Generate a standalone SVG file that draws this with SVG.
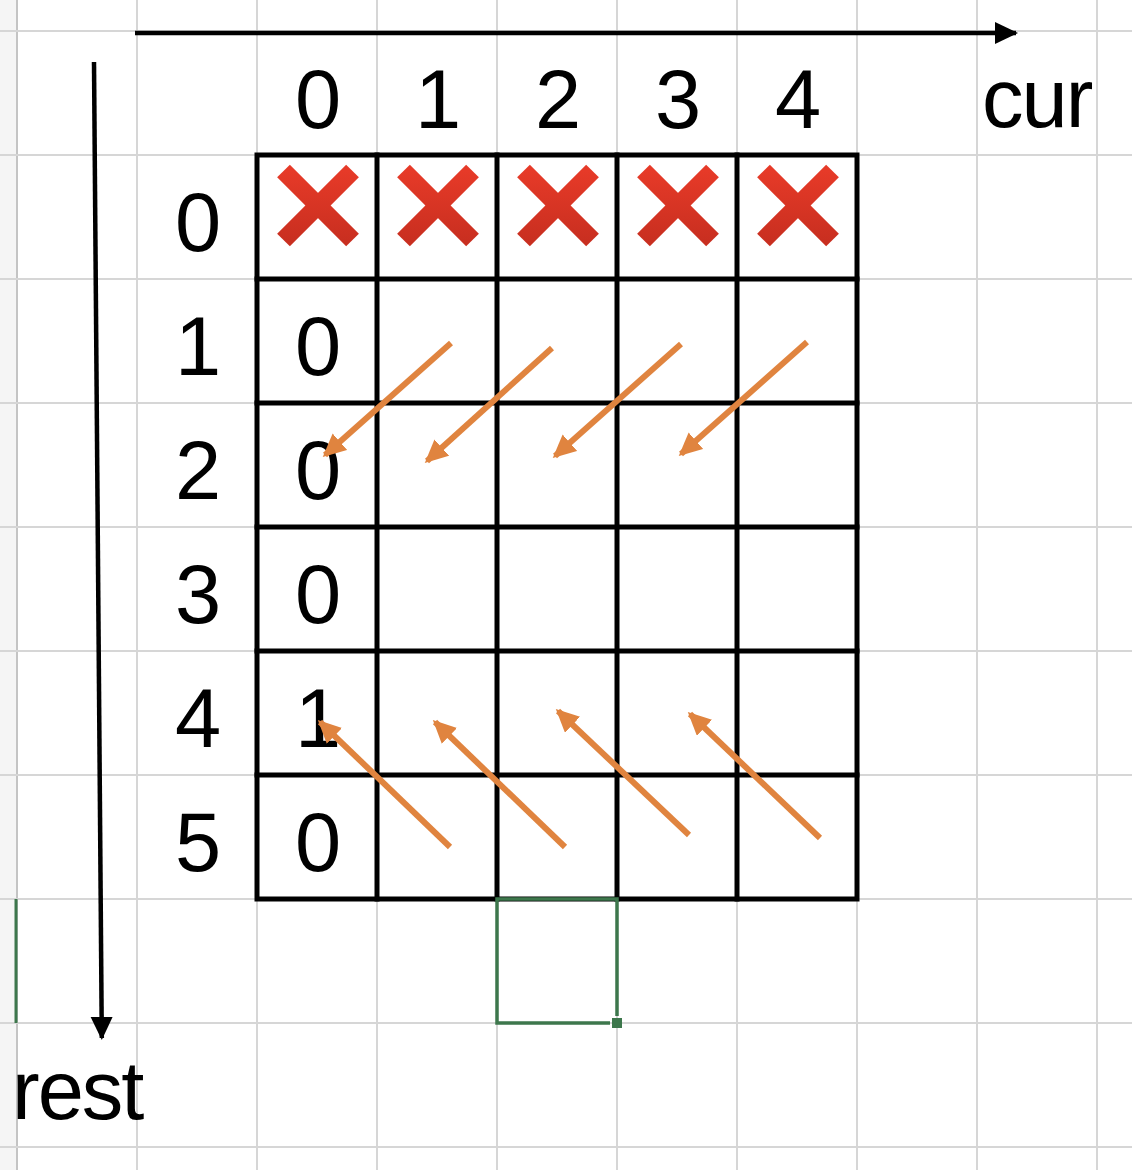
<svg xmlns="http://www.w3.org/2000/svg" width="1132" height="1170" viewBox="0 0 1132 1170">
  <style>
    .grid { stroke: #d6d6d6; stroke-width: 2; fill: none; }
    .tbl { stroke: #000; stroke-width: 5; fill: none; stroke-linecap: square; }
    .t { font-family: "Liberation Sans", Arial, sans-serif; font-size: 83px; fill: #000; }
    .c { text-anchor: middle; }
    .lbl { letter-spacing: -2px; }
    .x { stroke: url(#redg); stroke-width: 18; stroke-linecap: butt; }
    .arr { stroke: #e0843f; stroke-width: 6; fill: none; marker-end: url(#oh); }
    .axis { stroke: #000; stroke-width: 4.5; fill: none; marker-end: url(#bh); }
    .sel { stroke: #3d774c; fill: none; stroke-width: 3.5; }
  </style>
  <defs>
    <linearGradient id="redg" x1="0" y1="0" x2="0" y2="1" gradientUnits="objectBoundingBox">
      <stop offset="0" stop-color="#e63a28"/>
      <stop offset="1" stop-color="#c92f20"/>
    </linearGradient>
    <marker id="oh" markerUnits="userSpaceOnUse" markerWidth="24" markerHeight="24" refX="20" refY="11" orient="auto" viewBox="0 0 24 24">
      <path d="M0,0 L23,11 L0,22 z" fill="#e0843f"/>
    </marker>
    <marker id="bh" markerUnits="userSpaceOnUse" markerWidth="26" markerHeight="24" refX="21" refY="11" orient="auto" viewBox="0 0 26 24">
      <path d="M0,0 L23,11 L0,22 z" fill="#000"/>
    </marker>
  </defs>

  <rect x="0" y="0" width="1132" height="1170" fill="#fff"/>
  <rect x="0" y="0" width="16" height="1170" fill="#f5f5f5"/>

  <g id="gridlines" class="grid">
    <line x1="17" y1="0" x2="17" y2="1170" stroke="#c4c4c4"/>
    <line x1="137" y1="0" x2="137" y2="1170"/>
    <line x1="257" y1="0" x2="257" y2="1170"/>
    <line x1="377" y1="0" x2="377" y2="1170"/>
    <line x1="497" y1="0" x2="497" y2="1170"/>
    <line x1="617" y1="0" x2="617" y2="1170"/>
    <line x1="737" y1="0" x2="737" y2="1170"/>
    <line x1="857" y1="0" x2="857" y2="1170"/>
    <line x1="977" y1="0" x2="977" y2="1170"/>
    <line x1="1097" y1="0" x2="1097" y2="1170"/>
    <line x1="0" y1="31" x2="1132" y2="31"/>
    <line x1="0" y1="155" x2="1132" y2="155"/>
    <line x1="0" y1="279" x2="1132" y2="279"/>
    <line x1="0" y1="403" x2="1132" y2="403"/>
    <line x1="0" y1="527" x2="1132" y2="527"/>
    <line x1="0" y1="651" x2="1132" y2="651"/>
    <line x1="0" y1="775" x2="1132" y2="775"/>
    <line x1="0" y1="899" x2="1132" y2="899"/>
    <line x1="0" y1="1023" x2="1132" y2="1023"/>
    <line x1="0" y1="1147" x2="1132" y2="1147"/>
  </g>

  <g id="table" class="tbl">
    <rect x="257" y="155" width="600" height="744"/>
    <line x1="377" y1="155" x2="377" y2="899"/>
    <line x1="497" y1="155" x2="497" y2="899"/>
    <line x1="617" y1="155" x2="617" y2="899"/>
    <line x1="737" y1="155" x2="737" y2="899"/>
    <line x1="257" y1="279" x2="857" y2="279"/>
    <line x1="257" y1="403" x2="857" y2="403"/>
    <line x1="257" y1="527" x2="857" y2="527"/>
    <line x1="257" y1="651" x2="857" y2="651"/>
    <line x1="257" y1="775" x2="857" y2="775"/>
  </g>

  <g id="crosses">
    <g id="x0"><line class="x" x1="283.5" y1="171" x2="352.5" y2="240"/><line class="x" x1="352.5" y1="171" x2="283.5" y2="240"/></g>
    <g id="x1"><line class="x" x1="403.5" y1="171" x2="472.5" y2="240"/><line class="x" x1="472.5" y1="171" x2="403.5" y2="240"/></g>
    <g id="x2"><line class="x" x1="523.5" y1="171" x2="592.5" y2="240"/><line class="x" x1="592.5" y1="171" x2="523.5" y2="240"/></g>
    <g id="x3"><line class="x" x1="643.5" y1="171" x2="712.5" y2="240"/><line class="x" x1="712.5" y1="171" x2="643.5" y2="240"/></g>
    <g id="x4"><line class="x" x1="763.5" y1="171" x2="832.5" y2="240"/><line class="x" x1="832.5" y1="171" x2="763.5" y2="240"/></g>
  </g>

  <g id="col-headers" class="t c">
    <text x="318" y="128">0</text>
    <text x="438" y="128">1</text>
    <text x="558" y="128">2</text>
    <text x="678" y="128">3</text>
    <text x="798" y="128">4</text>
  </g>

  <g id="row-headers" class="t c">
    <text x="198" y="251">0</text>
    <text x="198" y="375">1</text>
    <text x="198" y="499">2</text>
    <text x="198" y="623">3</text>
    <text x="198" y="747">4</text>
    <text x="198" y="871">5</text>
  </g>

  <g id="cells" class="t c">
    <text x="318" y="375">0</text>
    <text x="318" y="499">0</text>
    <text x="318" y="623">0</text>
    <text x="318" y="747">1</text>
    <text x="318" y="871">0</text>
  </g>

  <g id="labels" class="t lbl">
    <text x="982" y="127">cur</text>
    <text x="12" y="1119">rest</text>
  </g>

  <g id="connectors">
    <line class="arr" x1="451" y1="343" x2="325" y2="455"/>
    <line class="arr" x1="552" y1="348" x2="427" y2="461"/>
    <line class="arr" x1="681" y1="344" x2="555" y2="456"/>
    <line class="arr" x1="807" y1="342" x2="681" y2="454"/>
    <line class="arr" x1="450" y1="847" x2="320" y2="722"/>
    <line class="arr" x1="565" y1="847" x2="435" y2="722"/>
    <line class="arr" x1="689" y1="835" x2="558" y2="711"/>
    <line class="arr" x1="820" y1="838" x2="690" y2="714"/>
    <line class="axis" x1="135" y1="33" x2="1016" y2="33"/>
    <line class="axis" x1="94" y1="62" x2="101.8" y2="1038"/>
  </g>

  <g id="selection">
    <line x1="16" y1="899" x2="16" y2="1023" stroke="#3d774c" stroke-width="3"/>
    <path class="sel" d="M610,1023 L497,1023 L497,899 L617,899 L617,1016"/>
    <rect x="612" y="1018" width="10" height="10" fill="#3d774c"/>
  </g>
</svg>
